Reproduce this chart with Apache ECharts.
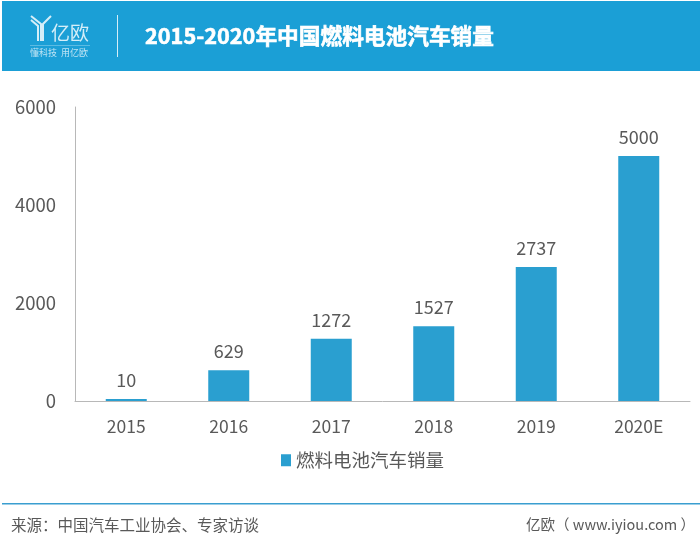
<!DOCTYPE html>
<html>
<head>
<meta charset="utf-8">
<style>
  html, body { margin: 0; padding: 0; background: #fff; }
  #chart { width: 700px; height: 553px; }
</style>
<script src="https://cdn.jsdelivr.net/npm/echarts@6/dist/echarts.min.js"></script>
</head>
<body>
<div id="chart"></div>
<script>
var categories = ['2015', '2016', '2017', '2018', '2019', '2020E'];
var sales = [10, 629, 1272, 1527, 2737, 5000];
var seriesName = '燃料电池汽车销量';
var titleText = '2015-2020年中国燃料电池汽车销量';
var sourceText = '来源：中国汽车工业协会、专家访谈';
var siteText = '亿欧（ www.iyiou.com ）';

var font = '"Noto Sans CJK SC", "Open Sans", sans-serif';
var chart = echarts.init(document.getElementById('chart'));

chart.setOption({
  animation: false,
  backgroundColor: '#fff',
  textStyle: { fontFamily: font },
  title: {
    text: titleText,
    left: 145,
    top: 21,
    padding: 0,
    textStyle: {
      color: '#fff', fontSize: 21.7, fontWeight: 'bold', fontFamily: font, lineHeight: 30,
      textBorderColor: '#fff', textBorderWidth: 0.6
    }
  },
  legend: {
    data: [seriesName],
    left: 281,
    top: 451,
    padding: 0,
    itemWidth: 10,
    itemHeight: 12,
    itemGap: 5,
    icon: 'rect',
    textStyle: { color: '#595959', fontSize: 18.5, fontFamily: font }
  },
  grid: { left: 75, right: 10, top: 107, bottom: 152, containLabel: false },
  xAxis: {
    type: 'category',
    data: categories,
    axisLine: { lineStyle: { color: '#b8b8b8', width: 1 } },
    axisTick: { show: false },
    axisLabel: { color: '#595959', fontSize: 17.5, margin: 17, fontFamily: font }
  },
  yAxis: {
    type: 'value',
    min: 0,
    max: 6000,
    interval: 2000,
    axisLine: { show: true, lineStyle: { color: '#b8b8b8', width: 1 } },
    axisTick: { show: false },
    splitLine: { show: false },
    axisLabel: {
      color: '#595959', fontSize: 18.5, margin: 19, fontFamily: font,
      formatter: function(val) { return String(val); }
    }
  },
  series: [{
    name: seriesName,
    type: 'bar',
    data: sales,
    barWidth: 41,
    barMinHeight: 2,
    itemStyle: { color: '#2a9fd0' },
    label: { show: true, position: 'top', distance: 10, color: '#595959', fontSize: 18, fontFamily: font }
  }],
  graphic: [
    { type: 'rect', z: -1, shape: { x: 2, y: 1, width: 698, height: 70 }, style: { fill: '#1b9fd6' } },
    // logo mark
    { type: 'polyline', shape: { points: [[31, 16], [41, 24], [41, 41]] }, style: { fill: 'none', stroke: '#d5eef8', lineWidth: 2 } },
    { type: 'polyline', shape: { points: [[51, 16], [43, 24], [43, 41]] }, style: { fill: 'none', stroke: '#d5eef8', lineWidth: 2 } },
    { type: 'polyline', shape: { points: [[31, 20], [38, 26], [38, 41]] }, style: { fill: 'none', stroke: '#d5eef8', lineWidth: 2 } },
    { type: 'text', style: { x: 51, y: 23, text: '亿欧', fill: '#d5eef8', font: '19px ' + font } },
    { type: 'rect', shape: { x: 30, y: 45, width: 60, height: 1 }, style: { fill: '#5bbbe3' } },
    { type: 'text', style: { x: 30, y: 48, text: '懂科技  用亿欧', fill: '#bfe4f4', font: '9px ' + font } },
    { type: 'rect', shape: { x: 117, y: 15, width: 1, height: 42 }, style: { fill: '#d5eef8' } },
    // footer
    { type: 'rect', shape: { x: 2, y: 503, width: 698, height: 1.5 }, style: { fill: '#3a9ed0' } },
    { type: 'text', style: { x: 11, y: 517, text: sourceText, fill: '#595959', font: '15.5px ' + font } },
    { type: 'text', style: { x: 526, y: 517, text: siteText, fill: '#595959', font: '14.5px ' + font } }
  ]
});
</script>
</body>
</html>
